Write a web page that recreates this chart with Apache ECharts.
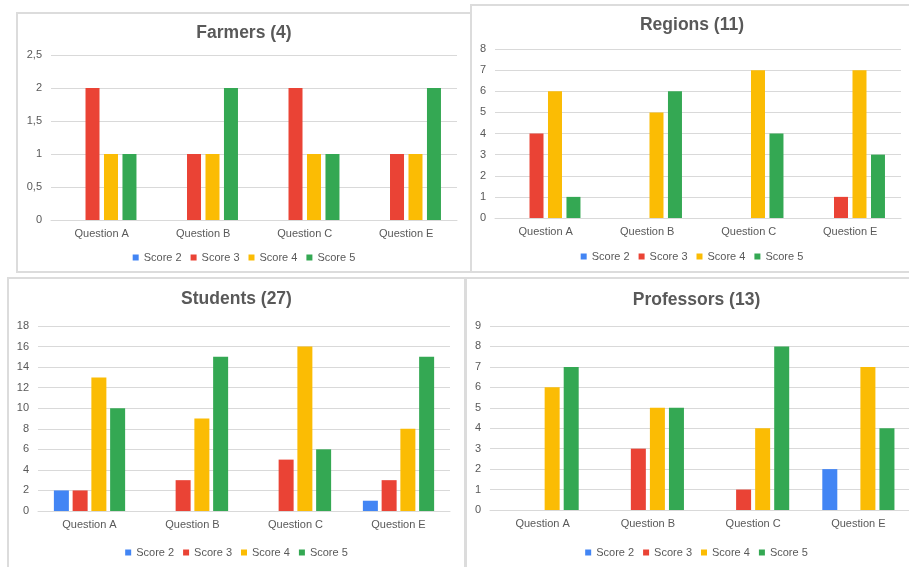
<!DOCTYPE html>
<html>
<head>
<meta charset="utf-8">
<script src="https://cdn.jsdelivr.net/npm/echarts@6/dist/echarts.min.js"></script>
<style>
  html, body { margin: 0; padding: 0; width: 909px; height: 567px; overflow: hidden; background: #fff; }
  .panel { position: absolute; box-sizing: border-box; border: 2px solid #dcdcdc; background: #fff; }
  .panel > div { position: absolute; left: 0; top: 0; right: 0; bottom: 0; }
</style>
</head>
<body>
<div class="panel" id="p-farmers" style="left:16px;top:12px;width:456px;height:261px;"><div id="c-farmers"></div></div>
<div class="panel" id="p-regions" style="left:470px;top:4px;width:444px;height:269px;"><div id="c-regions"></div></div>
<div class="panel" id="p-students" style="left:7px;top:277px;width:459px;height:300px;"><div id="c-students"></div></div>
<div class="panel" id="p-professors" style="left:465px;top:277px;width:463px;height:300px;"><div id="c-professors"></div></div>
<script>
// Survey answers per question, counted by score, for each respondent group
const questions = ['Question A', 'Question B', 'Question C', 'Question E'];
const scoreNames = ['Score 2', 'Score 3', 'Score 4', 'Score 5'];
const scoreColors = ['#4285F4', '#EA4335', '#FBBC04', '#34A853'];

const farmersScore2 = [0, 0, 0, 0];
const farmersScore3 = [2, 1, 2, 1];
const farmersScore4 = [1, 1, 1, 1];
const farmersScore5 = [1, 2, 1, 2];

const regionsScore2 = [0, 0, 0, 0];
const regionsScore3 = [4, 0, 0, 1];
const regionsScore4 = [6, 5, 7, 7];
const regionsScore5 = [1, 6, 4, 3];

const studentsScore2 = [2, 0, 0, 1];
const studentsScore3 = [2, 3, 5, 3];
const studentsScore4 = [13, 9, 16, 8];
const studentsScore5 = [10, 15, 6, 15];

const professorsScore2 = [0, 0, 0, 2];
const professorsScore3 = [0, 3, 1, 0];
const professorsScore4 = [6, 5, 4, 7];
const professorsScore5 = [7, 5, 8, 4];

const FONT = '"Liberation Sans", Arial, sans-serif';
const GREY = '#595959';
const LINE = '#d9d9d9';

function buildChart(el, cfg) {
  const chart = echarts.init(document.getElementById(el), null, { renderer: 'canvas' });
  chart.setOption({
    animation: false,
    textStyle: { fontFamily: FONT },
    title: {
      text: cfg.title,
      left: 'center',
      top: cfg.titleTop,
      padding: 0,
      textStyle: { fontFamily: FONT, fontSize: 17.5, fontWeight: 'bold', color: GREY }
    },
    legend: {
      left: 'center',
      top: cfg.legendTop,
      icon: 'rect',
      itemWidth: 6,
      itemHeight: 6,
      itemGap: 9,
      padding: 0,
      textStyle: { fontFamily: FONT, fontSize: 11, color: GREY },
      data: scoreNames
    },
    grid: {
      left: cfg.grid[0], top: cfg.grid[1], width: cfg.grid[2], height: cfg.grid[3],
      containLabel: false
    },
    xAxis: {
      type: 'category',
      data: questions,
      axisTick: { show: false },
      axisLine: { show: true, lineStyle: { color: LINE, width: 1 } },
      axisLabel: { color: GREY, fontSize: 11, fontFamily: FONT, margin: 8 }
    },
    yAxis: {
      type: 'value',
      min: 0,
      max: cfg.max,
      interval: cfg.interval,
      axisLine: { show: false },
      axisTick: { show: false },
      splitLine: { lineStyle: { color: LINE, width: 1 } },
      axisLabel: {
        color: GREY, fontSize: 11, fontFamily: FONT, margin: 9,
        formatter: v => String(v).replace('.', ',')
      }
    },
    series: cfg.data.map((values, i) => ({
      name: scoreNames[i],
      type: 'bar',
      data: values,
      barWidth: cfg.barWidth,
      barGap: cfg.barGap,
      itemStyle: { color: scoreColors[i] }
    }))
  });
}

buildChart('c-farmers', {
  title: 'Farmers (4)', titleTop: 10, legendTop: 238,
  grid: [33, 41, 406, 165], max: 2.5, interval: 0.5,
  barWidth: 14, barGap: '32%',
  data: [farmersScore2, farmersScore3, farmersScore4, farmersScore5]
});

buildChart('c-regions', {
  title: 'Regions (11)', titleTop: 10, legendTop: 245,
  grid: [23, 43, 406, 169], max: 8, interval: 1,
  barWidth: 14, barGap: '32%',
  data: [regionsScore2, regionsScore3, regionsScore4, regionsScore5]
});

buildChart('c-students', {
  title: 'Students (27)', titleTop: 11, legendTop: 268,
  grid: [29, 47, 412, 185], max: 18, interval: 2,
  barWidth: 15, barGap: '25%',
  data: [studentsScore2, studentsScore3, studentsScore4, studentsScore5]
});

buildChart('c-professors', {
  title: 'Professors (13)', titleTop: 12, legendTop: 268,
  grid: [23, 47, 421, 184], max: 9, interval: 1,
  barWidth: 15, barGap: '27%',
  data: [professorsScore2, professorsScore3, professorsScore4, professorsScore5]
});
</script>
</body>
</html>
